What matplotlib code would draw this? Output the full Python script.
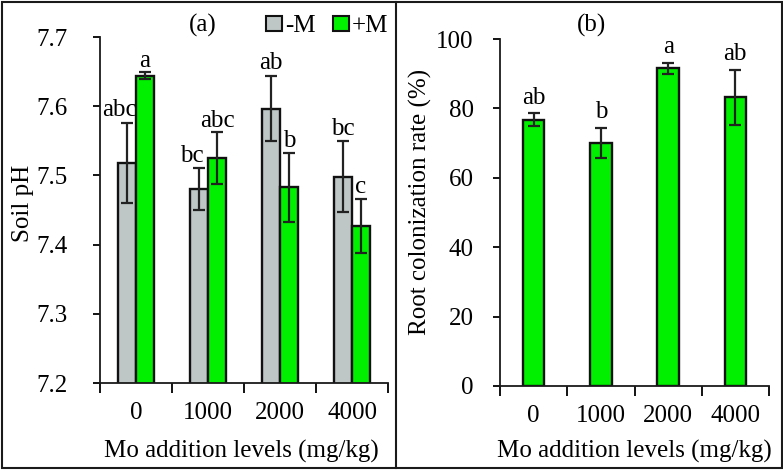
import matplotlib
matplotlib.use("Agg")
import matplotlib.pyplot as plt
from matplotlib.patches import Rectangle
from matplotlib.lines import Line2D
import numpy as np

plt.rcParams['font.family'] = ['Liberation Serif', 'DejaVu Serif']
plt.rcParams['font.size'] = 18

# ---- data ----
levels = ['0', '1000', '2000', '4000']
ph_minus = [7.518, 7.480, 7.596, 7.498]
ph_minus_err = [0.058, 0.030, 0.047, 0.051]
ph_plus = [7.644, 7.525, 7.483, 7.427]
ph_plus_err = [0.005, 0.037, 0.050, 0.039]
letters_minus = ['abc', 'bc', 'ab', 'bc']
letters_plus = ['a', 'abc', 'b', 'c']
colonization = [76.7, 70.0, 91.6, 83.2]
colonization_err = [1.9, 4.3, 1.6, 8.0]
colonization_letters = ['ab', 'b', 'a', 'ab']

GRAY = '#BEC6C6'
GREEN = '#00F000'
EDGE = '#111111'
W, H = 783, 472

fig = plt.figure(figsize=(W / 100, H / 100), dpi=100)


def px_axes(l, t, r, b):
    return fig.add_axes([l / W, 1 - b / H, (r - l) / W, (b - t) / H])


def style(ax):
    for s in ['top', 'right']:
        ax.spines[s].set_visible(False)
    for s in ['left', 'bottom']:
        ax.spines[s].set_linewidth(1.3)
        ax.spines[s].set_color('#1a1a1a')
    x = np.arange(len(levels))
    ax.set_xlim(-0.5, len(levels) - 0.5)
    ax.set_xticks(x)
    ax.set_xticklabels(levels)
    ax.set_xticks(np.arange(len(levels) + 1) - 0.5, minor=True)
    ax.tick_params(axis='x', which='major', length=0, pad=14)
    ax.tick_params(axis='x', which='minor', length=7, width=1.3, direction='out')
    ax.tick_params(axis='y', length=5, width=1.3, direction='out')


err_kw = dict(ecolor='#222222', elinewidth=1.6, capsize=4.5, capthick=1.6)

# ---- panel (a) ----
ax1 = px_axes(100, 37, 388, 383)
style(ax1)
x = np.arange(len(levels))
bw = 0.25
ax1.bar(x - bw / 2, ph_minus, bw, yerr=ph_minus_err, color=GRAY, edgecolor=EDGE,
        linewidth=1.7, error_kw=err_kw, label='-M')
ax1.bar(x + bw / 2, ph_plus, bw, yerr=ph_plus_err, color=GREEN, edgecolor=EDGE,
        linewidth=1.7, error_kw=err_kw, label='+M')
ax1.set_ylim(7.2, 7.7)
ax1.set_yticks([7.2, 7.3, 7.4, 7.5, 7.6, 7.7])
ax1.set_yticklabels(['7.2', '7.3', '7.4', '7.5', '7.6', '7.7'])
ax1.tick_params(axis='y', pad=18)
ax1.set_ylabel('Soil pH')
ax1.yaxis.set_label_coords(-0.229, 0.52)
ax1.set_xlabel('Mo addition levels (mg/kg)', va='baseline')
ax1.xaxis.set_label_coords(0.49, -0.216)

shift_minus = [-8, -7, 0, 0]
for i in range(len(levels)):
    ax1.annotate(letters_minus[i], (x[i] - bw / 2, ph_minus[i] + ph_minus_err[i]),
                 xytext=(shift_minus[i] * 0.72, 5), textcoords='offset points',
                 ha='center', va='baseline')
    ax1.annotate(letters_plus[i], (x[i] + bw / 2, ph_plus[i] + ph_plus_err[i]),
                 xytext=(0, 4), textcoords='offset points',
                 ha='center', va='baseline')

handles = [Rectangle((0, 0), 1, 1, facecolor=GRAY, edgecolor=EDGE, linewidth=1.5),
           Rectangle((0, 0), 1, 1, facecolor=GREEN, edgecolor=EDGE, linewidth=1.5)]
fig.legend(handles, ['-M', '+M'], loc='center', bbox_to_anchor=(327 / W, 1 - 26 / H),
           ncol=2, frameon=False, handlelength=0.65, handleheight=0.55,
           handletextpad=0.1, columnspacing=0.7, borderpad=0, fontsize=18)
fig.text(203 / W, 1 - 25 / H, '(a)', ha='center', va='center')

# ---- panel (b) ----
ax2 = px_axes(500, 39, 769, 386)
style(ax2)
ax2.bar(x, colonization, 0.32, yerr=colonization_err, color=GREEN, edgecolor=EDGE,
        linewidth=1.7, error_kw=err_kw)
ax2.set_ylim(0, 100)
ax2.set_yticks([0, 20, 40, 60, 80, 100])
ax2.tick_params(axis='y', pad=14)
ax2.set_ylabel('Root colonization rate (%)')
ax2.yaxis.set_label_coords(-0.253, 0.53)
ax2.set_xlabel('Mo addition levels (mg/kg)', va='baseline')
ax2.xaxis.set_label_coords(0.5, -0.207)
for i in range(len(levels)):
    ax2.annotate(colonization_letters[i], (x[i], colonization[i] + colonization_err[i]),
                 xytext=(0, 7), textcoords='offset points', ha='center', va='baseline')
fig.text(592 / W, 1 - 25 / H, '(b)', ha='center', va='center')

# ---- frames ----
fig.add_artist(Rectangle((2 / W, 1 - 468 / H), 780 / W, 466 / H, transform=fig.transFigure,
                         fill=False, edgecolor='#1a1a1a', linewidth=1.5))
fig.add_artist(Line2D([396 / W, 396 / W], [1 - 468 / H, 1 - 2 / H], transform=fig.transFigure,
                      color='#1a1a1a', linewidth=1.5))

fig.savefig('out.png', dpi=100)
